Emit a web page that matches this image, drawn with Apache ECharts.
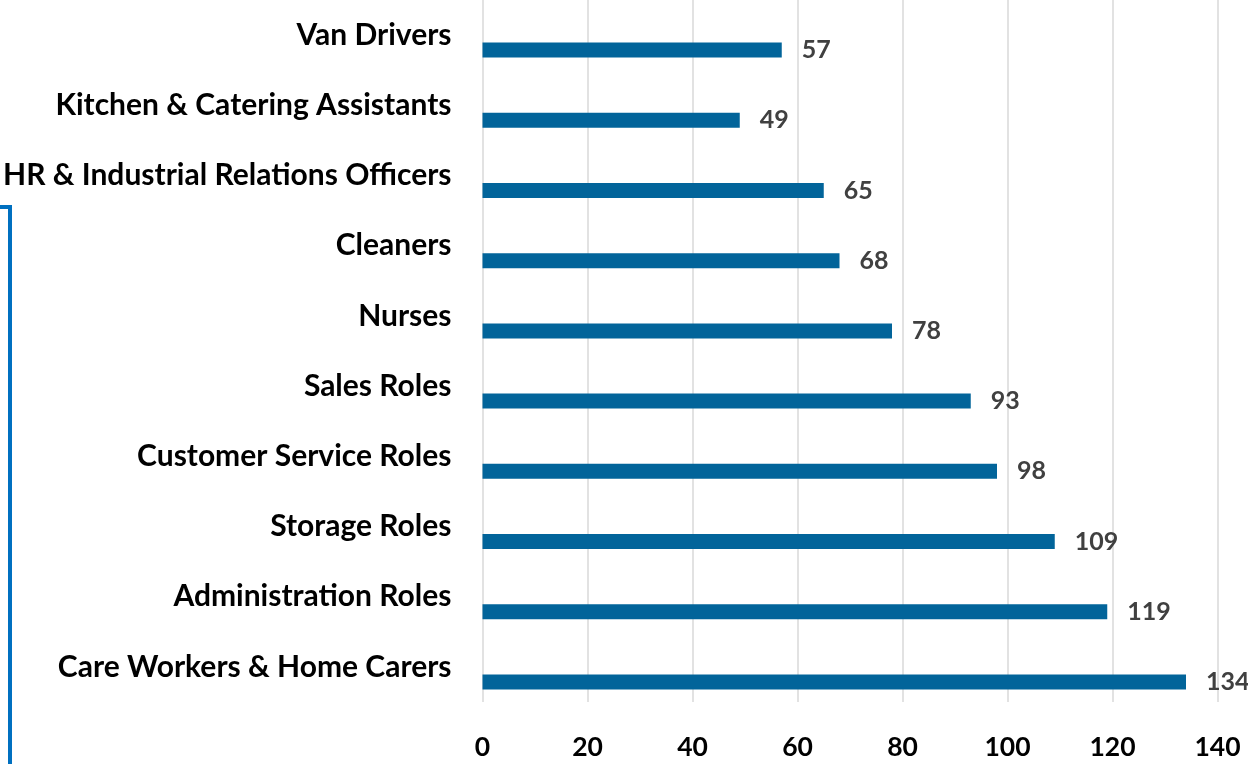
<!DOCTYPE html>
<html>
<head>
<meta charset="utf-8">
<script src="https://cdn.jsdelivr.net/npm/echarts@6/dist/echarts.min.js"></script>
<style>
    html, body {margin: 0; padding: 0; background: #fff;}
    #chart {width: 1248px; height: 764px;}
</style>
</head>
<body>
<div id="chart"></div>
<script>
// categories listed top to bottom
const roles = ['Van Drivers', 'Kitchen & Catering Assistants', 'HR & Industrial Relations Officers',
    'Cleaners', 'Nurses', 'Sales Roles', 'Customer Service Roles', 'Storage Roles',
    'Administration Roles', 'Care Workers & Home Carers'];
const counts = [57, 49, 65, 68, 78, 93, 98, 109, 119, 134];
const xTicks = [0, 20, 40, 60, 80, 100, 120, 140];

const chart = echarts.init(document.getElementById('chart'));

const option = {
    animation: false,
    grid: {
        left: 482.5,
        right: 30.5,
        top: 0,
        bottom: 62
    },
    xAxis: {
        type: 'value',
        min: xTicks[0],
        max: xTicks[xTicks.length - 1],
        interval: 20,
        axisLine: {show: false},
        axisTick: {show: false},
        splitLine: {lineStyle: {color: '#d9d9d9', width: 1.5}},
        axisLabel: {
            margin: 32,
            color: '#000',
            fontFamily: 'Lato',
            fontWeight: 'bold',
            fontSize: 26.5
        }
    },
    yAxis: {
        type: 'category',
        inverse: true,
        data: roles,
        axisLine: {show: false},
        axisTick: {show: false},
        axisLabel: {
            margin: 31,
            color: '#000',
            fontFamily: 'Lato',
            fontWeight: 'bold',
            fontSize: 30
        }
    },
    series: [
        {
            // spacer so the real bar sits below the label
            type: 'bar',
            silent: true,
            barWidth: 15,
            barGap: '100%',
            data: roles.map(() => 0),
            itemStyle: {color: 'rgba(0,0,0,0)'}
        },
        {
            type: 'bar',
            barWidth: 15,
            barGap: '100%',
            data: counts,
            itemStyle: {color: '#02649a'},
            label: {
                show: true,
                position: 'right',
                distance: 20,
                color: '#404040',
                fontFamily: 'Lato',
                fontWeight: 'bold',
                fontSize: 25
            }
        }
    ],
    graphic: [{
        type: 'polyline',
        shape: {points: [[0, 207], [10, 207], [10, 764]]},
        style: {stroke: '#0070c0', lineWidth: 4, fill: null}
    }]
};

chart.setOption(option);
</script>
</body>
</html>
